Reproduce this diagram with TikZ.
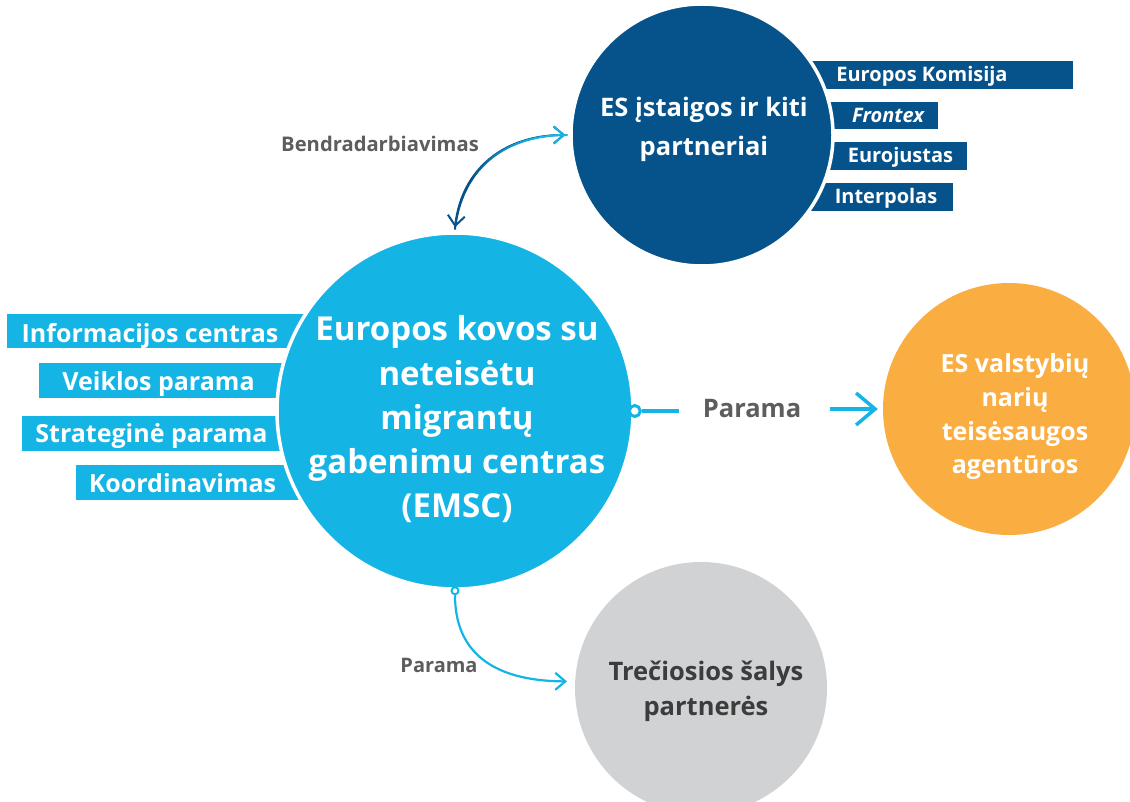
\documentclass[tikz,border=0pt]{standalone}
\usepackage{fontspec}
\setmainfont{Open Sans}
\usetikzlibrary{arrows.meta}
\definecolor{lblue}{HTML}{14B4E5}
\definecolor{dblue}{HTML}{05538A}
\definecolor{orng}{HTML}{FAAE42}
\definecolor{lgrey}{HTML}{D1D2D4}
\definecolor{tgrey}{HTML}{5D5D5D}
\definecolor{dgrey}{HTML}{3C3C3C}
\begin{document}
\begin{tikzpicture}[x=1pt,y=-1pt,
  bigcirc/.style={circle, inner sep=0pt, draw=white, line width=3.5pt},
  plaincirc/.style={circle, inner sep=0pt},
  ltxt/.style={text=white, font=\fontsize{25}{30}\selectfont\bfseries, inner sep=0pt, anchor=base},
  rtxt/.style={text=white, font=\fontsize{20}{24}\selectfont\bfseries, inner sep=0pt, anchor=base},
  emtxt/.style={text=white, font=\fontsize{33}{40}\selectfont\bfseries, inner sep=0pt, anchor=base},
  estxt/.style={text=white, font=\fontsize{25.5}{32}\selectfont\bfseries, inner sep=0pt, anchor=base},
  agtxt/.style={text=white, font=\fontsize{25}{30}\selectfont\bfseries, inner sep=0pt, anchor=base},
  tptxt/.style={text=dgrey, font=\fontsize{25.5}{32}\selectfont\bfseries, inner sep=0pt, anchor=base},
  lbl/.style={text=tgrey, font=\bfseries, inner sep=0pt, anchor=base},
  dotnode/.style={circle, fill=white, draw=lblue, inner sep=0pt},
  smallbarb/.tip={Straight Barb[length=10pt,width=17pt]},
  bigbarb/.tip={Straight Barb[length=19pt,width=32pt]}
]
\clip (0,0) rectangle (1130,802);
\fill[white] (0,0) rectangle (1130,802);

% left label boxes
\fill[lblue] (7,314) rectangle (340,348);
\fill[lblue] (39,363) rectangle (340,398);
\fill[lblue] (22,416) rectangle (340,451);
\fill[lblue] (76,465) rectangle (340,500);

% right label boxes
\fill[dblue] (780,61) rectangle (1073,89);
\fill[dblue] (780,102) rectangle (938,129);
\fill[dblue] (780,142) rectangle (967,170);
\fill[dblue] (780,183) rectangle (953,211);

% circles
\node[bigcirc, fill=lblue, minimum size=356pt] (emsc) at (455,411) {};
\node[bigcirc, fill=dblue, minimum size=262pt] (es) at (702,135) {};
\node[plaincirc, fill=orng, minimum size=252pt] (ag) at (1009,409) {};
\node[plaincirc, fill=lgrey, minimum size=252pt] (tp) at (701,688) {};

% left label texts
\node[ltxt] (l1) at (150,342) {Informacijos centras};
\node[ltxt] (l2) at (158.5,390) {Veiklos parama};
\node[ltxt] (l3) at (151.5,442) {Strateginė parama};
\node[ltxt] (l4) at (182.5,492) {Koordinavimas};

% right label texts
\node[rtxt] (r1) at (922,82) {Europos Komisija};
\node[rtxt] (r2) at (888,123) {\itshape Frontex};
\node[rtxt] (r3) at (900.5,163) {Eurojustas};
\node[rtxt] (r4) at (886,204) {Interpolas};

% circle texts
\node[emtxt] (e1) at (457,341) {Europos kovos su};
\node[emtxt] (e2) at (457,385) {neteisėtu};
\node[emtxt] (e3) at (457,429) {migrantų};
\node[emtxt] (e4) at (457,473) {gabenimu centras};
\node[emtxt] (e5) at (457,517) {(EMSC)};

\node[estxt] (s1) at (704,117) {ES įstaigos ir kiti};
\node[estxt] (s2) at (704,156) {partneriai};

\node[agtxt] (a1) at (1015,372) {ES valstybių};
\node[agtxt] (a2) at (1015,406) {narių};
\node[agtxt] (a3) at (1015,440) {teisėsaugos};
\node[agtxt] (a4) at (1015,473) {agentūros};

\node[tptxt] (t1) at (706,680) {Trečiosios šalys};
\node[tptxt] (t2) at (706,715) {partnerės};

% connector labels
\node[lbl, font=\fontsize{20.2}{25}\selectfont\bfseries] (bend) at (380,152) {Bendradarbiavimas};
\node[lbl, font=\fontsize{25.5}{30}\selectfont\bfseries] (pr) at (752,417) {Parama};
\node[lbl, font=\fontsize{20}{24}\selectfont\bfseries] (pb) at (439,672) {Parama};

% cooperation arrow: dark base connector with both tips
\draw[dblue, line width=2pt, {smallbarb}-{smallbarb}]
  ([yshift=4pt]emsc.north) .. controls (462,168) and (505,135) .. ([xshift=-4pt]es.west);
% colour gradient overlay along the same curve (dark -> light)
\foreach \i in {0,...,47}{
  \pgfmathsetmacro\ta{\i/48}
  \pgfmathsetmacro\tb{(\i+1)/48}
  \pgfmathsetmacro\xa{(1-\ta)^3*455+3*(1-\ta)^2*\ta*462+3*(1-\ta)*\ta^2*505+\ta^3*567}
  \pgfmathsetmacro\ya{(1-\ta)^3*229+3*(1-\ta)^2*\ta*168+3*(1-\ta)*\ta^2*135+\ta^3*135}
  \pgfmathsetmacro\xb{(1-\tb)^3*455+3*(1-\tb)^2*\tb*462+3*(1-\tb)*\tb^2*505+\tb^3*567}
  \pgfmathsetmacro\yb{(1-\tb)^3*229+3*(1-\tb)^2*\tb*168+3*(1-\tb)*\tb^2*135+\tb^3*135}
  \pgfmathsetmacro\mixv{min(100,max(0,(\ta-0.3)/0.5*100))}
  \draw[lblue!\mixv!dblue, line width=2pt, line cap=round] (\xa,\ya) -- (\xb,\yb);
}
\draw[lblue, line width=2pt, -{smallbarb}] ([xshift=-14pt]es.west) -- ([xshift=-4pt]es.west);

% support arrow right
\node[dotnode, line width=3pt, minimum size=11pt] (dotR) at (emsc.east) {};
\draw[lblue, line width=3.5pt] (dotR) -- ++(44,0);
\draw[lblue, line width=3.5pt, -{bigbarb}] ([xshift=-53pt]ag.west) -- ([xshift=-5pt]ag.west);

% support arrow bottom
\node[dotnode, line width=2pt, minimum size=7pt] (dotB) at (emsc.south) {};
\draw[lblue, line width=2.2pt, -{smallbarb}]
  (dotB) .. controls (455,650) and (490,681) .. ([xshift=-8pt]tp.177);
\end{tikzpicture}
\end{document}
